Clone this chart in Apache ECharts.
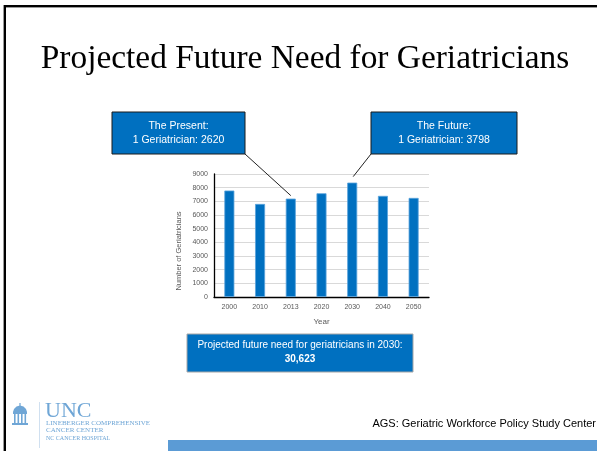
<!DOCTYPE html>
<html>
<head>
<meta charset="utf-8">
<script src="https://cdn.jsdelivr.net/npm/echarts@6/dist/echarts.min.js"></script>
<style>
html,body{margin:0;padding:0;background:#fff;}
#c{width:597px;height:451px;}
</style>
</head>
<body>
<div id="c"></div>
<script>
// ---- data ----
const years = ['2000', '2010', '2013', '2020', '2030', '2040', '2050'];
const geriatricians = [7790, 6810, 7200, 7590, 8370, 7400, 7250];
const yTickMin = 0, yTickMax = 9000, yTickStep = 1000;
const titleText = 'Projected Future Need for Geriatricians';
const presentLines = ['The Present:', '1 Geriatrician: 2620'];
const futureLines = ['The Future:', '1 Geriatrician: 3798'];
const needLines = ['Projected future need for geriatricians in 2030:', '30,623'];
const sourceText = 'AGS: Geriatric Workforce Policy Study Center';
const yAxisName = 'Number of Geriatricians';
const xAxisName = 'Year';

const chart = echarts.init(document.getElementById('c'), null, {renderer: 'canvas'});
const BLUE = '#0070C0';

const option = {
  animation: false,
  backgroundColor: '#ffffff',
  grid: {left: 214, top: 174, width: 215, height: 123, containLabel: false},
  xAxis: {
    type: 'category',
    data: years,
    name: xAxisName,
    nameLocation: 'middle',
    nameGap: 21,
    nameTextStyle: {fontSize: 8, color: '#595959', fontFamily: 'Liberation Sans'},
    axisLine: {lineStyle: {color: '#000', width: 1.3}},
    axisTick: {show: false},
    axisLabel: {fontSize: 7, color: '#595959', margin: 7, fontFamily: 'Liberation Sans'}
  },
  yAxis: {
    type: 'value',
    min: yTickMin, max: yTickMax, interval: yTickStep,
    axisLine: {show: true, lineStyle: {color: '#000', width: 1.3}},
    axisTick: {show: false},
    axisLabel: {fontSize: 7, color: '#595959', margin: 6, fontFamily: 'Liberation Sans',
                formatter: function (v) { return String(v); }},
    splitLine: {lineStyle: {color: '#d9d9d9', width: 1}}
  },
  series: [{
    type: 'bar',
    data: geriatricians,
    barWidth: 10,
    itemStyle: {color: BLUE, borderColor: '#5aa3dc', borderWidth: 0.8}
  }]
};
chart.setOption(option);

// annotation anchors from the chart's own scales
const pPresent = chart.convertToPixel({seriesIndex: 0}, [years[2], geriatricians[2]]);
const pFuture = chart.convertToPixel({seriesIndex: 0}, [years[4], geriatricians[4]]);

function callout(x, y, w, h, lines, fs) {
  return [
    {type: 'rect', shape: {x: x, y: y, width: w, height: h},
     style: {fill: BLUE, stroke: '#1a1a1a', lineWidth: 1}, z: 10},
    {type: 'text', x: x + w / 2, y: y + h / 2, z: 11,
     style: {text: lines.join('\n'), fill: '#fff', font: fs + 'px "Liberation Sans"',
             align: 'center', verticalAlign: 'middle', lineHeight: fs + 3.5}}
  ];
}

const g = [];
// slide border
g.push({type: 'rect', shape: {x: 3, y: 5, width: 3, height: 446}, style: {fill: '#9a9a9a'}, z: 1});
g.push({type: 'rect', shape: {x: 4, y: 5, width: 2, height: 446}, style: {fill: '#000'}, z: 2});
g.push({type: 'rect', shape: {x: 4, y: 5, width: 593, height: 3}, style: {fill: '#9a9a9a'}, z: 1});
g.push({type: 'rect', shape: {x: 4, y: 5, width: 593, height: 2}, style: {fill: '#000'}, z: 2});
// title
g.push({type: 'text', x: 305, y: 59, style: {text: titleText, font: '33.4px "Liberation Serif"', fill: '#000', align: 'center', verticalAlign: 'middle'}});
// y axis name
g.push({type: 'text', x: 179, y: 251, rotation: Math.PI / 2,
        style: {text: yAxisName, font: '7.5px "Liberation Sans"', fill: '#595959', align: 'center', verticalAlign: 'middle'}});
// callouts
g.push(...callout(112, 112, 133, 42, presentLines, 10.5));
g.push(...callout(371, 112, 146, 42, futureLines, 10.5));
g.push({type: 'line', shape: {x1: 245, y1: 154, x2: pPresent[0], y2: pPresent[1] - 3}, style: {stroke: '#222', lineWidth: 1}, z: 9});
g.push({type: 'line', shape: {x1: 371, y1: 154, x2: pFuture[0] + 1, y2: pFuture[1] - 6}, style: {stroke: '#222', lineWidth: 1}, z: 9});
// bottom need box
g.push({type: 'rect', shape: {x: 187, y: 334, width: 226, height: 38}, style: {fill: BLUE, stroke: '#a6a6a6', lineWidth: 1}, z: 10});
g.push({type: 'text', x: 300, y: 345, z: 11, style: {text: needLines[0], fill: '#fff', font: '10px "Liberation Sans"', align: 'center', verticalAlign: 'middle'}});
g.push({type: 'text', x: 300, y: 359, z: 11, style: {text: needLines[1], fill: '#fff', font: 'bold 10px "Liberation Sans"', align: 'center', verticalAlign: 'middle'}});
// source text and bottom bar
g.push({type: 'text', x: 596, y: 424, style: {text: sourceText, fill: '#000', font: '11px "Liberation Sans"', align: 'right', verticalAlign: 'middle'}});
g.push({type: 'rect', shape: {x: 168, y: 440, width: 429, height: 11}, style: {fill: '#5B9BD5'}});
// UNC logo
const LB = '#6fa6d6';
g.push({type: 'rect', shape: {x: 39, y: 402, width: 0.8, height: 46}, style: {fill: '#c5d9ec'}});
g.push({type: 'polygon', shape: {points: [[13, 412], [14, 409], [16.5, 406.5], [20, 405.5], [23.5, 406.5], [26, 409], [27, 412]]}, style: {fill: LB}});
g.push({type: 'rect', shape: {x: 19.4, y: 403, width: 1.2, height: 3}, style: {fill: LB}});
g.push({type: 'rect', shape: {x: 13, y: 412, width: 14, height: 2}, style: {fill: LB}});
[14, 17.5, 21, 24.5].forEach(function (cx) {
  g.push({type: 'rect', shape: {x: cx, y: 414, width: 1.6, height: 9}, style: {fill: LB}});
});
g.push({type: 'rect', shape: {x: 12, y: 423, width: 16, height: 2}, style: {fill: LB}});
g.push({type: 'text', x: 45, y: 411.5, style: {text: 'UNC', font: '22px "Liberation Serif"', fill: LB, verticalAlign: 'middle'}});
g.push({type: 'text', x: 46, y: 423.5, style: {text: 'LINEBERGER COMPREHENSIVE', font: '7px "Liberation Serif"', fill: LB, verticalAlign: 'middle'}});
g.push({type: 'text', x: 46, y: 430.5, style: {text: 'CANCER CENTER', font: '7px "Liberation Serif"', fill: LB, verticalAlign: 'middle'}});
g.push({type: 'text', x: 46, y: 438.5, style: {text: 'NC CANCER HOSPITAL', font: '6px "Liberation Serif"', fill: LB, verticalAlign: 'middle'}});

chart.setOption({graphic: {elements: g}});
</script>
</body>
</html>
